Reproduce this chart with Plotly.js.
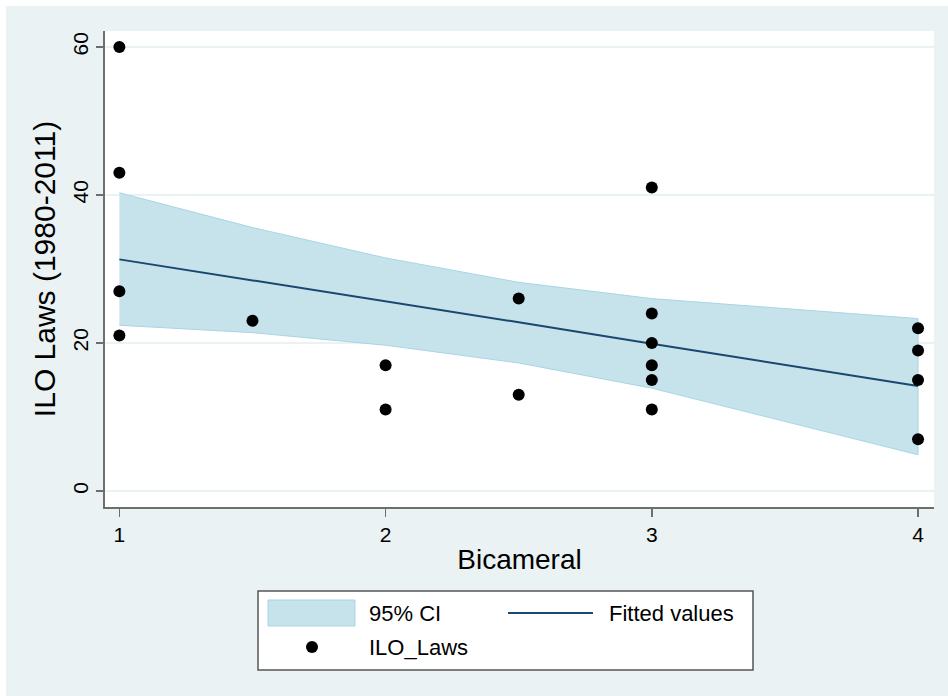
<!DOCTYPE html>
<html>
<head>
<meta charset="utf-8">
<script src="https://cdn.plot.ly/plotly-3.0.1.min.js"></script>
<style>
  html, body { margin: 0; padding: 0; background: #ffffff; width: 948px; height: 696px; overflow: hidden; }
  #chart { position: absolute; left: 6px; top: 6px; width: 942px; height: 690px; }
</style>
</head>
<body>
<div id="chart"></div>
<script>
const bicameral = [1, 1, 1, 1, 1.5, 2, 2, 2.5, 2.5, 3, 3, 3, 3, 3, 3, 4, 4, 4, 4];
const iloLaws   = [60, 43, 27, 21, 23, 17, 11, 26, 13, 41, 24, 20, 17, 15, 11, 22, 19, 15, 7];

// Fitted values and 95% CI band
const fitX    = [1, 1.5, 2, 2.5, 3, 3.5, 4];
const fitY    = [31.3, 28.5, 25.7, 22.8, 19.9, 17.1, 14.2];
const ciUpper = [40.3, 35.6, 31.5, 28.2, 26.0, 24.6, 23.3];
const ciLower = [22.4, 21.4, 19.7, 17.3, 13.9, 9.4, 4.9];

const xTicks = [1, 2, 3, 4];
const yTicks = [0, 20, 40, 60];

const FONT = '"Liberation Sans", Arial, Helvetica, sans-serif';
const BG = '#eaf2f3';
const CI_FILL = 'rgb(198,227,236)';
const CI_EDGE = 'rgb(168,213,229)';
const NAVY = '#1a476f';

const bandX = fitX.concat(fitX.slice().reverse());
const bandY = ciUpper.concat(ciLower.slice().reverse());

const traces = [
  {
    type: 'scatter', mode: 'lines', name: '95% CI',
    x: bandX, y: bandY, fill: 'toself', fillcolor: CI_FILL,
    line: { color: CI_EDGE, width: 1 }, hoverinfo: 'skip', showlegend: false
  },
  {
    type: 'scatter', mode: 'lines', name: 'Fitted values',
    x: fitX, y: fitY, line: { color: NAVY, width: 2 }, showlegend: false
  },
  {
    type: 'scatter', mode: 'markers', name: 'ILO_Laws',
    x: bicameral, y: iloLaws,
    marker: { color: '#000000', size: 12, line: { width: 0 } }, showlegend: false
  }
];

// Plot area in div px: left 99, right 928, top 25, bottom 501
const PW = 829, PH = 476, ML = 99, MT = 25;
const px = v => (v - ML) / PW;
const py = v => (MT + PH - v) / PH;

const shapes = [
  // legend frame
  { type: 'rect', xref: 'paper', yref: 'paper', x0: px(252), x1: px(747), y0: py(664), y1: py(585),
    fillcolor: '#ffffff', line: { color: '#555555', width: 1.5 }, layer: 'above' },
  // CI swatch
  { type: 'rect', xref: 'paper', yref: 'paper', x0: px(262), x1: px(349), y0: py(620), y1: py(594),
    fillcolor: CI_FILL, line: { color: CI_EDGE, width: 1 }, layer: 'above' },
  // fitted line swatch
  { type: 'line', xref: 'paper', yref: 'paper', x0: px(502), x1: px(587), y0: py(607), y1: py(607),
    line: { color: NAVY, width: 2 }, layer: 'above' },
  // marker swatch
  { type: 'circle', xref: 'paper', yref: 'paper', xsizemode: 'pixel', ysizemode: 'pixel',
    xanchor: px(306), yanchor: py(641), x0: -6, x1: 6, y0: -6, y1: 6,
    fillcolor: '#000000', line: { width: 0 }, layer: 'above' }
];

const legFont = { family: FONT, size: 22, color: '#000000' };
const annotations = [
  { text: traces[0].name, xref: 'paper', yref: 'paper', x: px(361), y: py(607), xanchor: 'left', yanchor: 'middle', showarrow: false, font: legFont },
  { text: traces[1].name, xref: 'paper', yref: 'paper', x: px(601), y: py(607), xanchor: 'left', yanchor: 'middle', showarrow: false, font: legFont },
  { text: traces[2].name, xref: 'paper', yref: 'paper', x: px(361), y: py(641), xanchor: 'left', yanchor: 'middle', showarrow: false, font: legFont }
];

const layout = {
  width: 942, height: 690,
  margin: { l: ML, r: 942 - ML - PW, t: MT, b: 690 - MT - PH, pad: 0 },
  paper_bgcolor: BG, plot_bgcolor: '#ffffff',
  font: { family: FONT, color: '#000000' },
  showlegend: false,
  xaxis: {
    range: [0.946, 4.06], tickvals: xTicks, ticktext: xTicks.map(String),
    showgrid: false, zeroline: false,
    showline: true, linecolor: '#6e6e6e', linewidth: 2,
    ticks: 'outside', ticklen: 8, tickwidth: 1.5, tickcolor: '#6e6e6e',
    tickfont: { family: FONT, size: 21, color: '#000000' },
    title: { text: 'Bicameral', font: { family: FONT, size: 28, color: '#000000' }, standoff: 4 },
    fixedrange: true
  },
  yaxis: {
    range: [-2.16, 62.16], tickvals: yTicks, ticktext: yTicks.map(String),
    showgrid: true, gridcolor: BG, gridwidth: 1.5, zeroline: false,
    showline: true, linecolor: '#6e6e6e', linewidth: 2,
    ticks: 'outside', ticklen: 7, tickwidth: 1.5, tickcolor: '#6e6e6e',
    tickangle: -90,
    tickfont: { family: FONT, size: 21, color: '#000000' },
    title: { text: 'ILO Laws (1980-2011)', font: { family: FONT, size: 30, color: '#000000' }, standoff: 4 },
    fixedrange: true
  },
  shapes: shapes,
  annotations: annotations
};

Plotly.newPlot('chart', traces, layout, { displayModeBar: false, staticPlot: true });
</script>
</body>
</html>
